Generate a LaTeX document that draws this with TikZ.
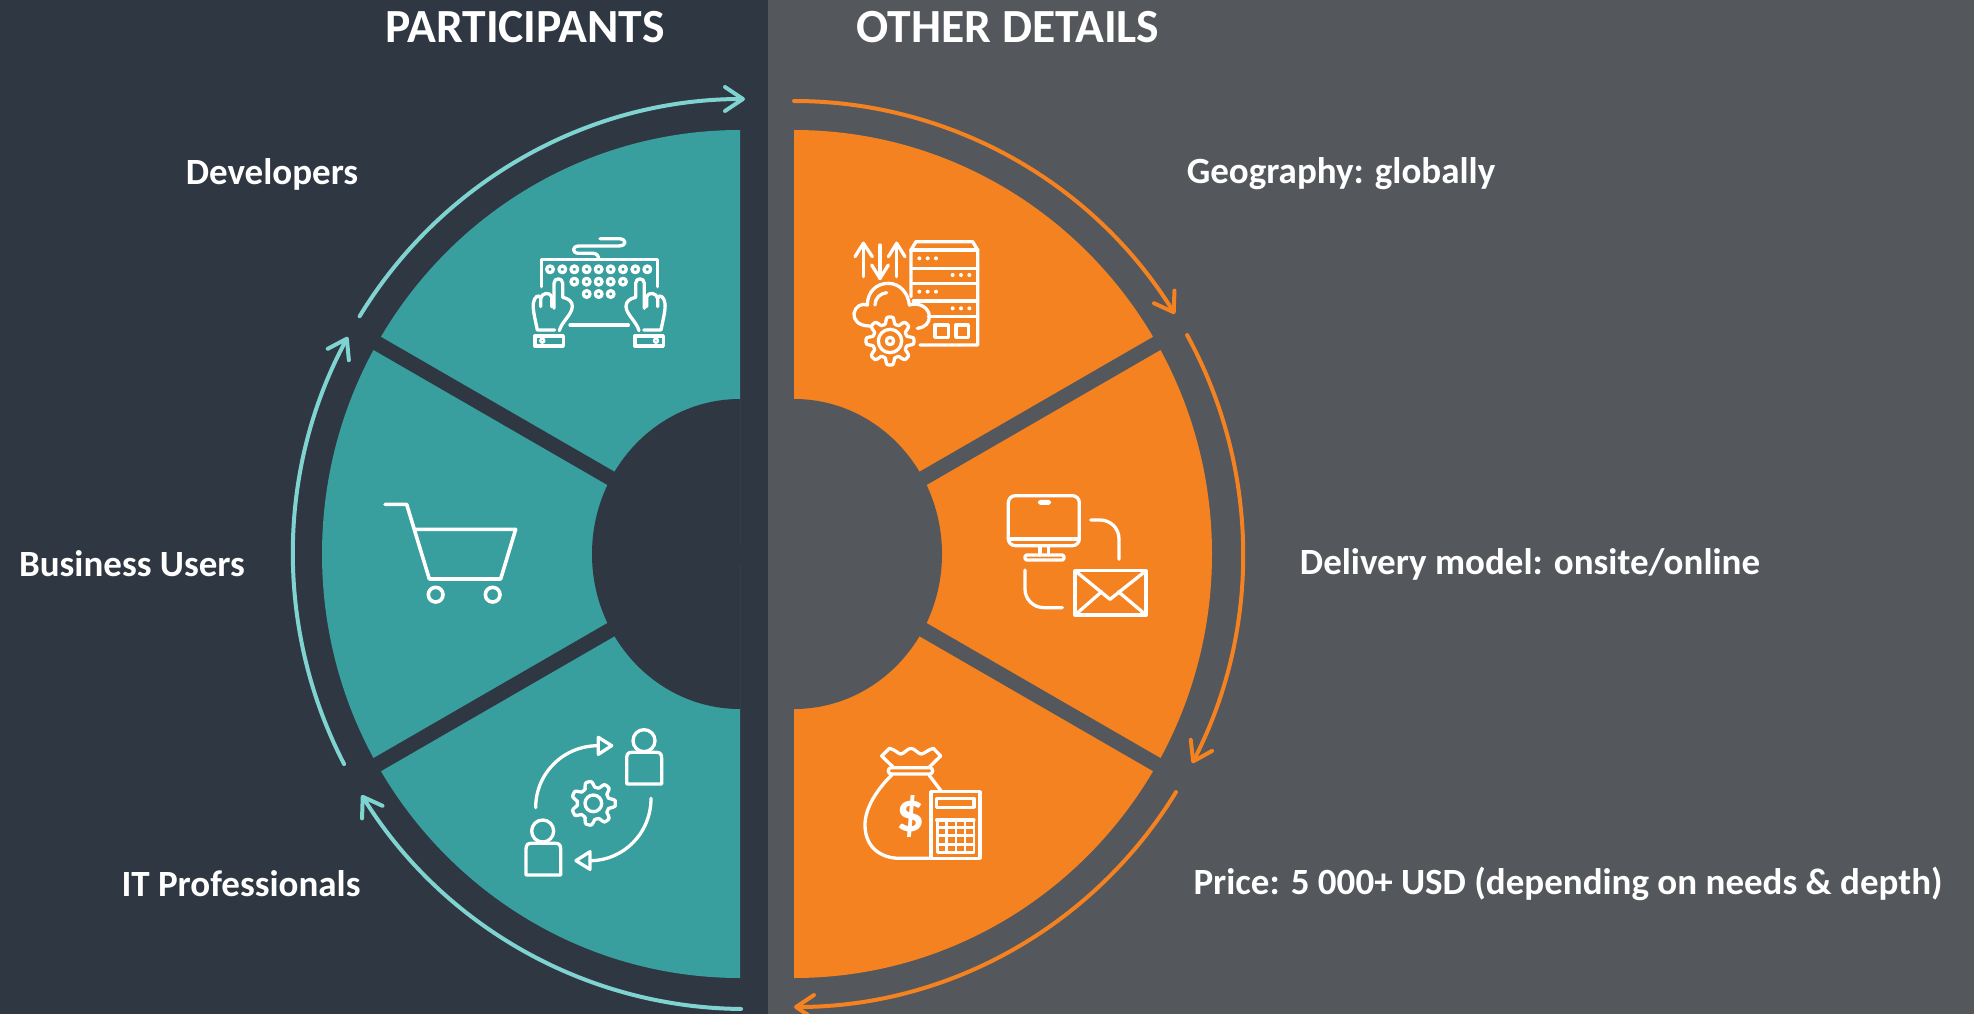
\documentclass[tikz,border=0pt]{standalone}
\usepackage{fontspec}
\setmainfont{Carlito}
\usetikzlibrary{arrows.meta}
\definecolor{darkbg}{HTML}{2F3742}
\definecolor{greybg}{HTML}{54575C}
\definecolor{tealseg}{HTML}{389E9E}
\definecolor{orangeseg}{HTML}{F58220}
\definecolor{tealline}{HTML}{7FD4D1}
\newcommand{\cogshape}[6]{% cx cy r a n fill
  \draw[iconline,fill=#6] plot[smooth cycle,domain=0:356.25,samples=96]
    ({#1+(#3+#4*max(-1,min(1,1.7*cos(#5*\x))))*cos(\x)},{#2+(#3+#4*max(-1,min(1,1.7*cos(#5*\x))))*sin(\x)});}
\newcommand{\handshape}{%
  \draw[iconline] (524,390)--(472,390) .. controls (465,355) and (458,330) .. (460,310)
    .. controls (462,290) and (478,280) .. (482,295) -- (482,320);
  \draw[iconline] (482,295) .. controls (485,278) and (510,275) .. (515,290) -- (515,320);
  \draw[iconline] (522,325)--(522,250) .. controls (522,232) and (548,232) .. (548,250) -- (548,292)
    .. controls (565,295) and (578,305) .. (577,320) .. controls (575,345) and (545,365) .. (538,392);
  \draw[iconline] (465,408) rectangle (550,438);
  \draw[iconthin] (487,422) circle[radius=6];}
\tikzset{
  iconline/.style={draw=white,line width=3.3pt,line cap=round,line join=round},
  iconthin/.style={draw=white,line width=2.4pt,line cap=round,line join=round},
  gapband/.style={line width=15pt},
  tealarrow/.style={draw=tealline,line width=4pt,line cap=round,-{Straight Barb[length=18pt,width=24pt,round]}},
  orangearrow/.style={draw=orangeseg,line width=4pt,line cap=round,-{Straight Barb[length=18pt,width=24pt,round]}},
  labeltext/.style={text=white,font=\fontsize{37}{40}\selectfont\bfseries,inner sep=0pt},
  titletext/.style={text=white,font=\fontsize{47.6}{50}\selectfont\bfseries,inner sep=0pt}
}
\begin{document}
\begin{tikzpicture}[x=1pt,y=1pt,yscale=-1]
\useasboundingbox (0,0) rectangle (1974,1014);
\fill[darkbg] (0,0) rectangle (768,1014);
\fill[greybg] (768,0) rectangle (1974,1014);
% teal half
\fill[tealseg] (740,130) arc[start angle=270,end angle=90,x radius=418,y radius=424] -- cycle;
\draw[darkbg,gapband] (742,554) -- ([shift={(210:440)}]742,554);
\draw[darkbg,gapband] (742,554) -- ([shift={(150:440)}]742,554);
\fill[darkbg] (740,399) arc[start angle=270,end angle=90,x radius=148,y radius=155] -- cycle;
% orange half
\fill[orangeseg] (794,130) arc[start angle=-90,end angle=90,x radius=418,y radius=424] -- cycle;
\draw[greybg,gapband] (792,554) -- ([shift={(330:440)}]792,554);
\draw[greybg,gapband] (792,554) -- ([shift={(30:440)}]792,554);
\fill[greybg] (794,399) arc[start angle=-90,end angle=90,x radius=148,y radius=155] -- cycle;
% outer arcs, left
\draw[tealarrow] ([shift={(211.5:452 and 455)}]745,554) arc[start angle=211.5,end angle=270,x radius=452,y radius=455];
\draw[tealarrow] ([shift={(152.5:452 and 455)}]745,554) arc[start angle=152.5,end angle=208.5,x radius=452,y radius=455];
\draw[tealarrow] ([shift={(90.5:452 and 455)}]745,554) arc[start angle=90.5,end angle=148,x radius=452,y radius=455];
% outer arcs, right
\draw[orangearrow] ([shift={(270:449 and 453)}]794,554) arc[start angle=270,end angle=328,x radius=449,y radius=453];
\draw[orangearrow] ([shift={(331.1:449 and 453)}]794,554) arc[start angle=331.1,end angle=387.5,x radius=449,y radius=453];
\draw[orangearrow] ([shift={(31.7:449 and 453)}]794,554) arc[start angle=31.7,end angle=90,x radius=449,y radius=453];
% texts
\node[titletext] (titleL) at (525,27) {PARTICIPANTS};
\node[titletext] (titleR) at (1008,27) {OTHER DETAILS};
\node[labeltext] (dev) at (272,174) {Developers};
\node[labeltext] (biz) at (132,564) {Business Users};
\node[labeltext] (itp) at (241,884) {IT Professionals};
\node[labeltext] (geo) at (1341,174) {Geography: globally};
\node[labeltext] (del) at (1530,564) {Delivery model: onsite/online};
\node[labeltext] (pri) at (1568,884) {Price: 5 000+ USD (depending on needs \& depth)};
% keyboard icon
\begin{scope}[shift={(380,200)},scale=1/3]
  \draw[iconline] (660,116)--(715,116) .. controls (742,116) and (742,138) .. (715,138) -- (597,138)
    .. controls (575,138) and (575,160) .. (597,160) -- (640,160) .. controls (650,160) and (656,168) .. (656,178);
  \draw[iconline] (485,260)--(485,178)--(832,178)--(832,260);
  \foreach \px in {510,547,583,620,656,692,729,766,802} \draw[iconline] (\px,208) circle[radius=10];
  \foreach \px in {583,620,656,692,729} \draw[iconline] (\px,245) circle[radius=10];
  \foreach \px in {620,656,692} \draw[iconline] (\px,282) circle[radius=10];
  \draw[iconline] (570,375)--(745,375);
  \handshape
  \begin{scope}[shift={(1315,0)},xscale=-1]
    \handshape
  \end{scope}
\end{scope}
% cart icon
\begin{scope}[shift={(360,470)},scale=1/3]
  \draw[iconline,line width=3.6pt] (75,103)--(140,103)--(208,327)--(422,327)--(467,178)--(162,178);
  \draw[iconline,line width=3.6pt] (227,374) circle[radius=22];
  \draw[iconline,line width=3.6pt] (398,374) circle[radius=22];
\end{scope}
% people exchange icon
\begin{scope}[shift={(500,710)},scale=1/3]
  \draw[iconline] (107,293) .. controls (107,190) and (190,107) .. (295,107);
  \draw[iconline] (295,82)--(335,107)--(295,133)--cycle;
  \draw[iconline] (432,92) circle[radius=33];
  \draw[iconline] (380,222) -- (380,145) .. controls (380,132) and (385,127) .. (395,127) -- (470,127)
    .. controls (480,127) and (485,132) .. (485,145) -- (485,222) -- cycle;
  \draw[iconline] (453,265) .. controls (453,370) and (370,452) .. (270,452);
  \draw[iconline] (270,425)--(228,452)--(270,478)--cycle;
  \draw[iconline] (128,363) circle[radius=33];
  \draw[iconline] (78,495) -- (78,418) .. controls (78,405) and (83,400) .. (93,400) -- (167,400)
    .. controls (177,400) and (182,405) .. (182,418) -- (182,495) -- cycle;
  \cogshape{280}{280}{57}{9}{7}{tealseg}
  \draw[iconline] (280,280) circle[radius=25];
\end{scope}
% server icon
\begin{scope}[shift={(830,220)},scale=1/3]
  \draw[iconline] (100,170)--(100,70); \draw[iconline] (75,110)--(100,70)--(127,110);
  \draw[iconline] (150,75)--(150,175); \draw[iconline] (125,135)--(150,175)--(175,135);
  \draw[iconline] (200,170)--(200,70); \draw[iconline] (175,110)--(200,70)--(225,110);
  \draw[iconline] (243,230)--(243,90)--(258,65)--(428,65)--(443,90)--(443,375)--(270,375);
  \draw[iconline] (243,90)--(443,90);
  \draw[iconline] (243,145)--(443,145);
  \draw[iconline] (243,190)--(443,190);
  \draw[iconline] (250,243)--(443,243);
  \draw[iconline] (295,290)--(443,290);
  \foreach \px in {268,293,318} {\fill[white] (\px,115) circle[radius=6]; \fill[white] (\px,215) circle[radius=6];}
  \foreach \px in {368,393,418} {\fill[white] (\px,165) circle[radius=6]; \fill[white] (\px,265) circle[radius=6];}
  \draw[iconline] (315,315) rectangle (355,352);
  \draw[iconline] (378,315) rectangle (415,352);
  \draw[iconline] (120,318) .. controls (85,318) and (70,300) .. (72,280) .. controls (75,260) and (95,248) .. (112,255)
    .. controls (112,215) and (140,190) .. (175,190) .. controls (210,190) and (235,220) .. (238,255)
    .. controls (270,245) and (298,265) .. (298,290) .. controls (298,310) and (285,322) .. (262,325);
  \draw[iconline] (135,255) .. controls (135,235) and (150,220) .. (170,218);
  \cogshape{180}{363}{62}{10}{8}{orangeseg}
  \draw[iconline] (180,363) circle[radius=35];
  \draw[iconline] (180,363) circle[radius=11];
\end{scope}
% mail icon
\begin{scope}[shift={(990,480)},scale=1/3]
  \draw[iconline,rounded corners=7pt] (55,47) rectangle (268,197);
  \draw[iconline] (55,177)--(268,177);
  \draw[iconthin,rounded corners=1.5pt] (147,63) rectangle (180,71);
  \draw[iconline] (150,197)--(150,225); \draw[iconline] (175,197)--(175,225);
  \draw[iconline,rounded corners=2pt] (105,225) rectangle (222,240);
  \draw[iconline] (302,120)--(330,120) .. controls (362,120) and (387,145) .. (387,177) -- (387,238);
  \draw[iconline] (105,270)--(105,327) .. controls (105,358) and (130,383) .. (162,383) -- (217,383);
  \draw[iconline] (255,272) rectangle (468,405);
  \draw[iconline] (255,272)--(360,358)--(468,272);
  \draw[iconline] (255,405)--(335,335);
  \draw[iconline] (468,405)--(385,335);
\end{scope}
% money icon
\begin{scope}[shift={(850,730)},scale=1/3]
  \draw[iconline] (130,112)--(95,78)--(118,55) .. controls (135,58) and (145,72) .. (152,72)
    .. controls (162,72) and (172,55) .. (183,55) .. controls (194,55) and (204,72) .. (214,72)
    .. controls (222,72) and (235,58) .. (250,55) -- (272,78) -- (237,112);
  \draw[iconline,rounded corners=3pt] (115,113) rectangle (248,132);
  \draw[iconline] (125,135) .. controls (85,175) and (45,230) .. (45,285) .. controls (45,350) and (90,385) .. (150,385) -- (245,385);
  \draw[iconline] (237,135)--(275,185);
  \draw[iconline] (243,185) rectangle (390,385);
  \draw[iconline] (260,205) rectangle (372,232);
  \draw[iconline] (260,270)--(372,270);
  \draw[iconthin] (262,292) rectangle (372,368);
  \draw[iconthin] (262,270)--(262,292); \draw[iconthin] (372,270)--(372,292);
  \foreach \px in {290,318,345} \draw[iconthin] (\px,270)--(\px,368);
  \foreach \py in {317,343} \draw[iconthin] (262,\py)--(372,\py);
  \node[text=white,font=\fontsize{56}{56}\selectfont\bfseries,inner sep=0pt] (dollar) at (181,258) {\$};
\end{scope}
\end{tikzpicture}
\end{document}
